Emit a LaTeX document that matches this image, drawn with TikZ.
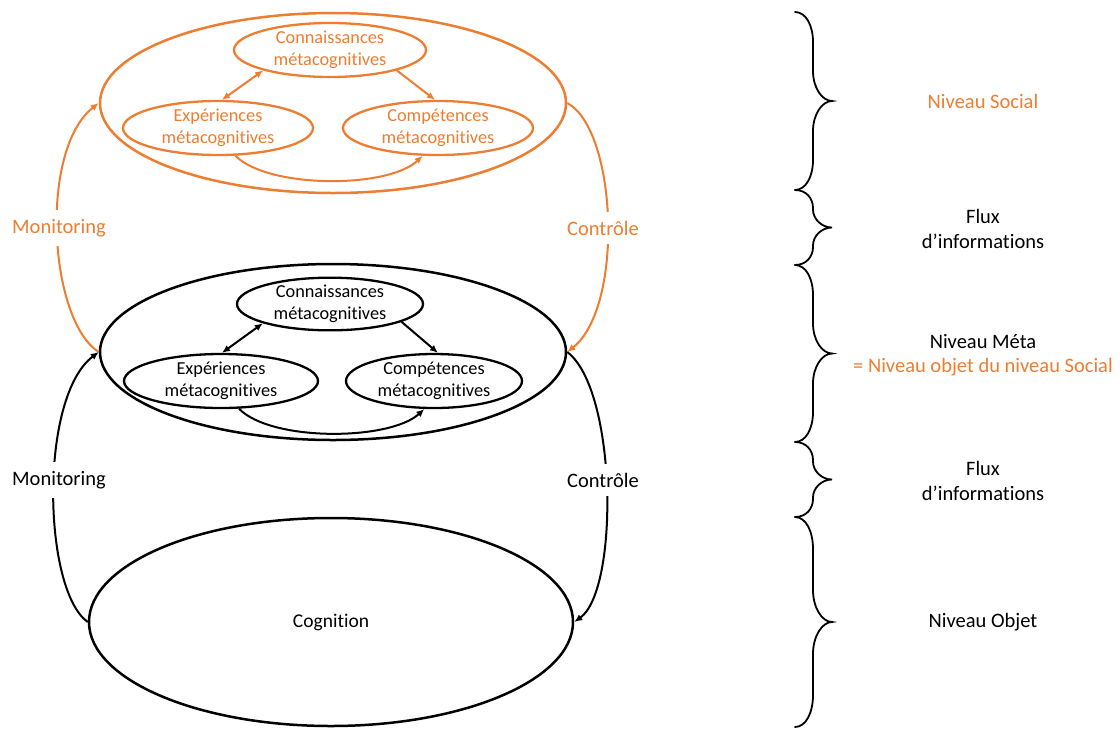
\documentclass[tikz,border=0pt]{standalone}
\usepackage{fontspec}
\setmainfont[Ligatures=NoCommon]{Carlito}
\usetikzlibrary{shapes.geometric,arrows.meta}
\definecolor{offorange}{RGB}{237,125,49}
\newcommand\drawmybrace[3]{%
  \pgfmathsetmacro\ya{#1}\pgfmathsetmacro\yb{#2}%
  \pgfmathsetmacro\ym{(#1+#2)/2}\pgfmathsetmacro\cc{#3}%
  \draw[bracestyle] (795,\ya) .. controls (806,\ya) and (813,\ya+0.45*\cc) .. (813,\ya+\cc)
    -- (813,\ym-\cc) .. controls (813,\ym-0.45*\cc) and (822,\ym) .. (832,\ym)
    .. controls (822,\ym) and (813,\ym+0.45*\cc) .. (813,\ym+\cc)
    -- (813,\yb-\cc) .. controls (813,\yb-0.45*\cc) and (806,\yb) .. (795,\yb);}
\begin{document}
\begin{tikzpicture}[x=1pt,y=-1pt,
  ell/.style={ellipse, draw, line width=2.3pt, inner sep=0pt, align=center,
    font=\fontsize{18.3}{21.5}\selectfont},
  big/.style={ellipse, draw, line width=2.5pt, inner sep=0pt, font=\fontsize{19.5}{23}\selectfont},
  arr/.style={line width=2pt, -{Latex[length=8pt,width=7pt]}},
  darr/.style={line width=2pt, {Latex[length=8pt,width=7pt]}-{Latex[length=8pt,width=7pt]}},
  lab/.style={fill=white, inner xsep=2pt, inner ysep=9pt, font=\fontsize{20.5}{24}\selectfont},
  side/.style={align=center, font=\fontsize{20.5}{24.5}\selectfont},
  bracestyle/.style={line width=1.8pt, line cap=round}
]
\useasboundingbox (0,0) rectangle (1120,729);

% ---------- Social level (orange) ----------
\begin{scope}[draw=offorange, text=offorange]
\node[big, minimum width=466, minimum height=180] (social) at (333,103) {};
\node[ell, minimum width=192, minimum height=54] (sconn) at (330,50) {Connaissances\\métacognitives};
\node[ell, minimum width=190, minimum height=54] (sexp) at (218,128) {Expériences\\métacognitives};
\node[ell, minimum width=190, minimum height=54] (scomp) at (438,128) {Compétences\\métacognitives};
\draw[darr] (sexp.82) -- (sconn.197);
\draw[arr] (sconn.-17) -- (scomp.96);
\draw[arr] (sexp.-58) .. controls +(33,33) and +(-35,33) .. (scomp.-119);
\end{scope}

% ---------- Meta level (black) ----------
\node[big, minimum width=466, minimum height=176] (meta) at (333,352) {};
\node[ell, minimum width=186, minimum height=52] (mconn) at (330,304) {Connaissances\\métacognitives};
\node[ell, minimum width=194, minimum height=54] (mexp) at (221,381) {Expériences\\métacognitives};
\node[ell, minimum width=176, minimum height=54] (mcomp) at (434,381) {Compétences\\métacognitives};
\draw[darr] (mexp.88) -- (mconn.196);
\draw[arr] (mconn.-14) -- (mcomp.82);
\draw[arr] (mexp.-57) .. controls +(32,33) and +(-35,32) .. (mcomp.-109);

% ---------- Object level ----------
\node[big, minimum width=484, minimum height=208] (cog) at (331,622) {Cognition};

% ---------- Monitoring / control loops ----------
\draw[arr, offorange] (meta.west) .. controls +(-50,-32) and +(-60,47) .. (social.west);
\draw[arr, offorange] (social.east) .. controls +(50,27) and +(57,-45) .. (meta.east);
\draw[arr] (cog.west) .. controls +(-45,-32) and +(-60,45) .. (meta.west);
\draw[arr] (meta.east) .. controls +(50,38) and +(45,-32) .. (cog.east);

\node[lab, text=offorange] (monS) at (59,228) {Monitoring};
\node[lab, text=offorange] (ctrS) at (603,228) {Contrôle};
\node[lab] (monM) at (59,480) {Monitoring};
\node[lab] (ctrM) at (603,480) {Contrôle};

% ---------- Braces ----------
\drawmybrace{12}{190}{30}
\drawmybrace{190}{265}{18}
\drawmybrace{265}{442}{30}
\drawmybrace{442}{517}{18}
\drawmybrace{517}{727}{32}

% ---------- Right labels ----------
\node[side, text=offorange] (nsoc) at (983,101) {Niveau Social};
\node[side] (flux1) at (983,229) {Flux\\d’informations};
\node[side] (nmeta) at (983,355) {Niveau Méta\\\textcolor{offorange}{= Niveau objet du niveau Social}};
\node[side] (flux2) at (983,481) {Flux\\d’informations};
\node[side] (nobj) at (983,622) {Niveau Objet};
\end{tikzpicture}
\end{document}
